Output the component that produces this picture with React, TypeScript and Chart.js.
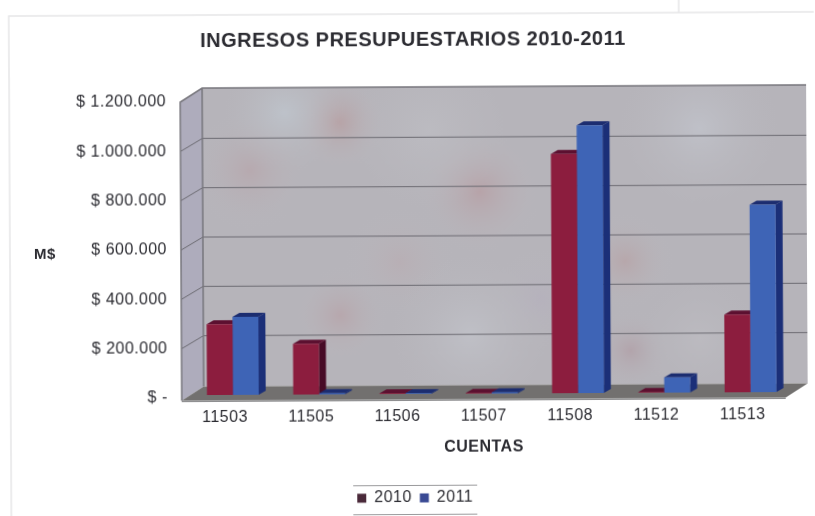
import React, { useEffect, useRef } from "react";
import { Chart, registerables } from "chart.js";

Chart.register(...registerables);

const categories = ["11503", "11505", "11506", "11507", "11508", "11512", "11513"];
const values2010 = [287000, 206000, 3000, 3000, 970000, 3000, 315000];
const values2011 = [316000, 5000, 3000, 5000, 1085000, 62000, 760000];
const yTickLabels = ["$ -", "$ 200.000", "$ 400.000", "$ 600.000", "$ 800.000", "$ 1.000.000", "$ 1.200.000"];
const chartTitle = "INGRESOS PRESUPUESTARIOS 2010-2011";
const yAxisTitle = "M$";
const xAxisTitle = "CUENTAS";

const FONT = "'Liberation Sans', Arial, sans-serif";
const TEXT = "#2c2c32";
const BAR_DX = 8, BAR_DY = -3;
const BACK_DX = 22, BACK_DY = -14, GRID_DY = -13;
const SIDE_DX = 7, SIDE_DY = -4;
const palette = [
  { front: "#8c1d3e", side: "#470b26", top: "#5c1030", legend: "#4a2a3a" },
  { front: "#3e64b6", side: "#1b2f78", top: "#1c2d70", legend: "#3a4a94" },
];
const blotches = [
  [340, 122, 48, "rgba(185,135,135,0.38)"],
  [250, 170, 60, "rgba(185,145,150,0.30)"],
  [480, 192, 62, "rgba(185,135,140,0.38)"],
  [340, 315, 48, "rgba(185,140,145,0.32)"],
  [625, 262, 48, "rgba(185,140,140,0.32)"],
  [630, 352, 42, "rgba(170,130,140,0.32)"],
  [400, 262, 55, "rgba(190,160,165,0.25)"],
  [540, 300, 50, "rgba(180,170,195,0.25)"],
  [285, 112, 60, "rgba(200,215,225,0.40)"],
  [430, 130, 80, "rgba(198,200,205,0.35)"],
  [700, 130, 80, "rgba(205,212,222,0.38)"],
  [470, 335, 80, "rgba(205,210,218,0.38)"],
  [700, 340, 60, "rgba(200,200,205,0.30)"],
];

function poly(ctx: CanvasRenderingContext2D, pts: number[][], fill: string) {
  ctx.beginPath();
  pts.forEach((p, i) => (i ? ctx.lineTo(p[0], p[1]) : ctx.moveTo(p[0], p[1])));
  ctx.closePath();
  ctx.fillStyle = fill;
  ctx.fill();
}

const scene3d = {
  id: "scene3d",
  beforeUpdate(chart: any) {
    chart.ctx.letterSpacing = "0.5px";
  },
  beforeDraw(chart: any) {
    const { ctx, chartArea: a, scales } = chart;
    ctx.letterSpacing = "0.5px";
    const l = a.left, r = a.right, t = a.top, b = a.bottom + 2.5;
    ctx.save();
    // faint page frame of the scan
    ctx.strokeStyle = "#e6e6e8";
    ctx.lineWidth = 1.5;
    ctx.beginPath();
    ctx.moveTo(10, 516); ctx.lineTo(10, 14); ctx.lineTo(815, 14);
    ctx.moveTo(680, 0); ctx.lineTo(680, 14);
    ctx.stroke();

    const back = [[l + BACK_DX, t + BACK_DY], [r + BACK_DX, t + BACK_DY], [r + BACK_DX, b + BACK_DY], [l + BACK_DX, b + BACK_DY]];
    poly(ctx, back, "#b6b4ba");
    ctx.save();
    ctx.clip();
    blotches.forEach(([x, y, rad, c]: any) => {
      const g = ctx.createRadialGradient(x, y, 0, x, y, rad);
      g.addColorStop(0, c);
      g.addColorStop(1, "rgba(190,190,195,0)");
      ctx.fillStyle = g;
      ctx.fillRect(x - rad, y - rad, rad * 2, rad * 2);
    });
    ctx.restore();
    poly(ctx, [[l, t], [l + BACK_DX, t + BACK_DY], [l + BACK_DX, b + BACK_DY], [l, b]], "#aeacbc");
    poly(ctx, [[l, b], [l + BACK_DX, b + BACK_DY], [r + BACK_DX, b + BACK_DY], [r, b]], "#72706f");
    poly(ctx, [[l, b], [r, b], [r, b + 1.5], [l, b + 1.5]], "#8e8e90");

    ctx.strokeStyle = "#6c6b72";
    ctx.lineWidth = 1;
    scales.y.ticks.forEach((tick: any) => {
      if (!tick.value || tick.value >= scales.y.max) return;
      const y = scales.y.getPixelForValue(tick.value);
      ctx.beginPath();
      ctx.moveTo(l, y);
      ctx.lineTo(l + BACK_DX, y + GRID_DY);
      ctx.lineTo(r + BACK_DX, y + GRID_DY);
      ctx.stroke();
    });
    ctx.strokeStyle = "#77767c";
    ctx.lineWidth = 1.5;
    ctx.beginPath();
    ctx.moveTo(l, b); ctx.lineTo(l, t); ctx.lineTo(l + BACK_DX, t + BACK_DY);
    ctx.lineTo(r + BACK_DX, t + BACK_DY);
    ctx.moveTo(l + BACK_DX, t + BACK_DY); ctx.lineTo(l + BACK_DX, b + BACK_DY);
    ctx.stroke();

    // horizontal value axis title, which the library only offers rotated
    ctx.fillStyle = TEXT;
    ctx.font = `bold 15px ${FONT}`;
    ctx.textAlign = "center";
    ctx.textBaseline = "middle";
    ctx.fillText(yAxisTitle, 45, 253);

    // rules above and below the legend
    const boxes = chart.legend.legendHitBoxes;
    if (boxes && boxes.length) {
      const x0 = boxes[0].left - 4;
      const x1 = boxes[boxes.length - 1].left + boxes[boxes.length - 1].width + 4;
      ctx.strokeStyle = "#9a9a9c";
      ctx.lineWidth = 1;
      ctx.beginPath();
      ctx.moveTo(x0, 485.5); ctx.lineTo(x1, 485.5);
      ctx.moveTo(x0, 514.5); ctx.lineTo(x1, 514.5);
      ctx.stroke();
    }
    ctx.restore();
  },
  beforeDatasetsDraw(chart: any) {
    const { ctx } = chart;
    ctx.save();
    ctx.translate(BAR_DX, BAR_DY);
    chart.data.datasets.forEach((_: any, di: number) => {
      const c = palette[di];
      chart.getDatasetMeta(di).data.forEach((bar: any) => {
        const x0 = bar.x - bar.width / 2, x1 = bar.x + bar.width / 2;
        poly(ctx, [[x1, bar.y], [x1 + SIDE_DX, bar.y + SIDE_DY], [x1 + SIDE_DX, bar.base + SIDE_DY], [x1, bar.base]], c.side);
        poly(ctx, [[x0, bar.y], [x0 + SIDE_DX, bar.y + SIDE_DY], [x1 + SIDE_DX, bar.y + SIDE_DY], [x1, bar.y]], c.top);
      });
    });
  },
  afterDatasetsDraw(chart: any) {
    chart.ctx.restore();
  },
};

export default function App() {
  const ref = useRef<HTMLCanvasElement>(null);
  useEffect(() => {
    const chart = new Chart(ref.current!, {
      type: "bar",
      data: {
        labels: categories,
        datasets: [
          { label: "2010", data: values2010, backgroundColor: palette[0].front, clip: false as any },
          { label: "2011", data: values2011, backgroundColor: palette[1].front, clip: false as any },
        ],
      },
      plugins: [scene3d],
      options: {
        responsive: false,
        animation: false,
        layout: { padding: { left: 43, right: 30, top: 0, bottom: 0 } },
        datasets: { bar: { categoryPercentage: 0.6, barPercentage: 1 } },
        scales: {
          x: {
            grid: { display: false, drawTicks: false },
            border: { display: false },
            ticks: { color: TEXT, font: { family: FONT, size: 16 }, padding: 10, maxRotation: 0 },
            title: { display: true, text: xAxisTitle, color: TEXT, font: { family: FONT, size: 16, weight: "bold" }, padding: { top: 0, bottom: 25 } },
            afterFit: (s: any) => { s.height = 85; },
          },
          y: {
            min: 0,
            max: 1200000,
            grid: { display: false, drawTicks: false },
            border: { display: false },
            ticks: {
              stepSize: 200000,
              color: TEXT,
              font: { family: FONT, size: 16 },
              padding: 14,
              callback: (_: any, i: number) => yTickLabels[i],
            },
            afterFit: (s: any) => { s.width = 138; },
          },
        },
        plugins: {
          tooltip: { enabled: false },
          title: {
            display: true,
            text: chartTitle,
            color: TEXT,
            font: { family: FONT, size: 20, weight: "bold" },
            padding: { top: 28, bottom: 49 },
          },
          legend: {
            position: "bottom",
            labels: {
              boxWidth: 9,
              boxHeight: 9,
              padding: 8,
              color: TEXT,
              font: { family: FONT, size: 16 },
              generateLabels: (c: any) =>
                c.data.datasets.map((d: any, i: number) => ({
                  text: d.label,
                  fillStyle: palette[i].legend,
                  strokeStyle: palette[i].legend,
                  lineWidth: 0,
                  datasetIndex: i,
                  fontColor: TEXT,
                })),
            },
          },
        },
      },
    } as any);
    return () => chart.destroy();
  }, []);
  return (
    <div style={{ position: "absolute", left: 0, top: 0, width: 815, height: 516, overflow: "hidden" }}>
      <canvas
        ref={ref}
        width={815}
        height={516}
        style={{ display: "block", width: 815, height: 516, transform: "rotate(-0.3deg)", filter: "blur(0.6px)" }}
      />
    </div>
  );
}
